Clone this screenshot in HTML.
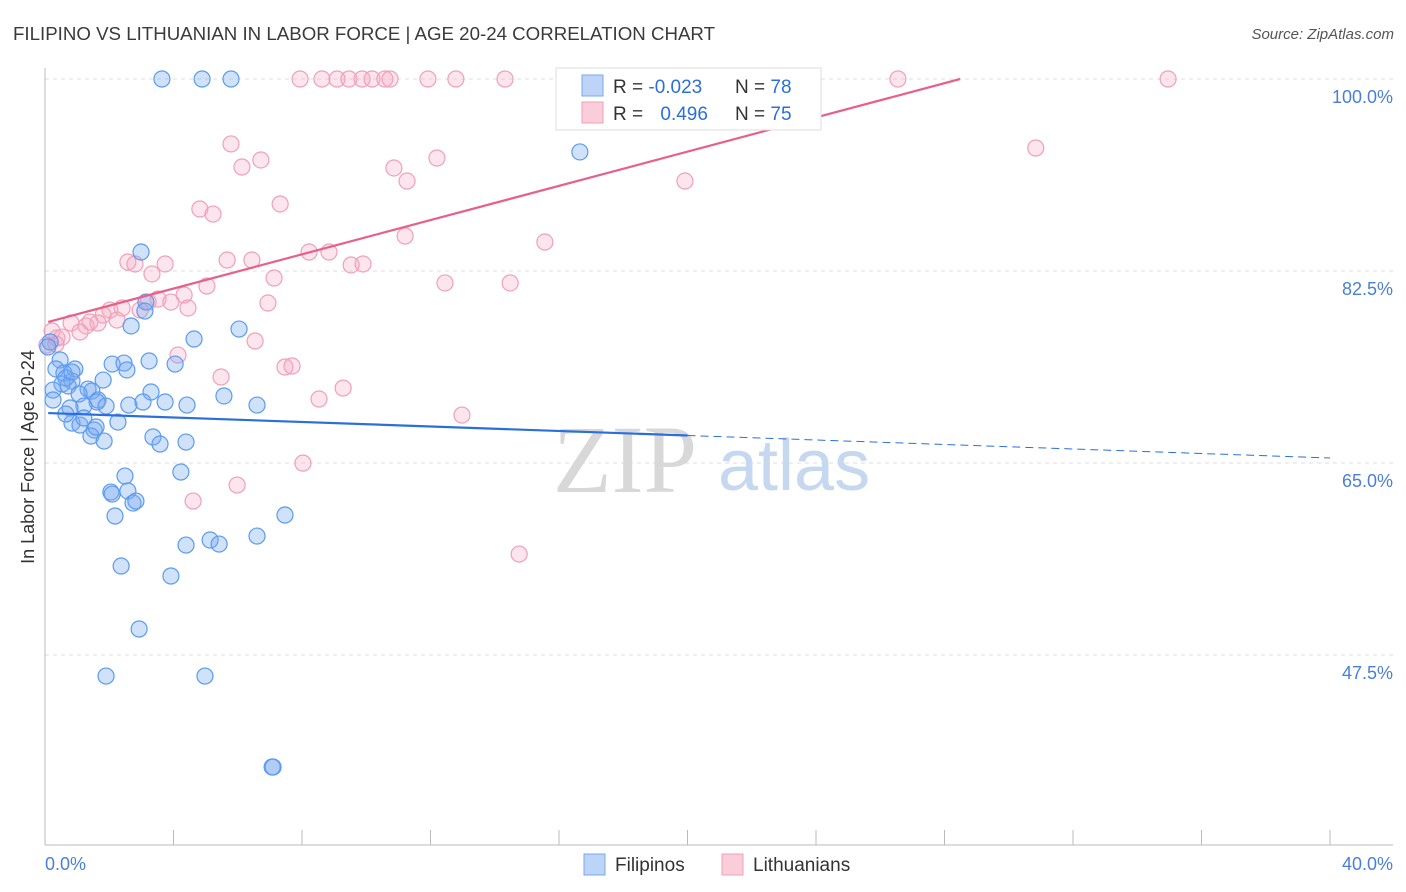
<!DOCTYPE html>
<html><head><meta charset="utf-8">
<style>
body{margin:0;background:#fff;font-family:"Liberation Sans",sans-serif;}
#wrap{position:relative;width:1406px;height:892px;overflow:hidden;}
</style></head>
<body>
<div id="wrap">
<svg id="chart" width="1406" height="892" xmlns="http://www.w3.org/2000/svg">
<text x="13" y="40" font-size="18.7" fill="#3a3a3a">FILIPINO VS LITHUANIAN IN LABOR FORCE | AGE 20-24 CORRELATION CHART</text>
<text x="1394" y="39" font-size="15" fill="#555" font-style="italic" text-anchor="end">Source: ZipAtlas.com</text>
<g id="grid"></g>
<g id="watermark">
<text x="553" y="492" font-size="96" font-family="Liberation Serif,serif" fill="#d8d8d8">ZIP</text>
<text x="718" y="490" font-size="72" fill="#c5d8f0">atlas</text>
</g>
<g id="axes"></g>
<g id="points"></g>
<g id="lines"></g>
<text transform="translate(34,457) rotate(-90)" font-size="18" fill="#333" text-anchor="middle">In Labor Force | Age 20-24</text>
<text x="45" y="870" font-size="18" fill="#4a7fd8">0.0%</text>
<text x="1393" y="870" font-size="18" fill="#4a7fd8" text-anchor="end">40.0%</text>
<g>
<rect x="556" y="68" width="265" height="62" fill="#fff" stroke="#ddd"/>
<rect x="582" y="75" width="21" height="21" fill="#bcd4f7" stroke="#7aa8ea"/>
<rect x="582" y="102" width="21" height="21" fill="#f9cdd9" stroke="#f0a0b8"/>
<text x="613" y="93" font-size="19" fill="#333">R = <tspan fill="#2a6fdb">-0.023</tspan></text>
<text x="735" y="93" font-size="19" fill="#333">N = <tspan fill="#2a6fdb">78</tspan></text>
<text x="613" y="120" font-size="19" fill="#333">R = <tspan fill="#2a6fdb" dx="12">0.496</tspan></text>
<text x="735" y="120" font-size="19" fill="#333">N = <tspan fill="#2a6fdb">75</tspan></text>
</g>
<g>
<rect x="584" y="854" width="21" height="21" fill="#bcd4f7" stroke="#7aa8ea"/>
<text x="615" y="871" font-size="19" fill="#333">Filipinos</text>
<rect x="722" y="854" width="21" height="21" fill="#f9cdd9" stroke="#f0a0b8"/>
<text x="753" y="871" font-size="19" fill="#333">Lithuanians</text>
</g>
</svg>
</div>
<script>
const yTicks=[100,82.5,65,47.5];
const yTickLabels=["100.0%","82.5%","65.0%","47.5%"];
const xTicks=[0,4,8,12,16,20,24,28,32,36,40];
const blueX=[3.64,4.89,5.79,16.65,2.99,6.04,2.68,3.14,3.11,4.64,0.16,0.09,0.47,0.34,0.93,0.59,0.84,0.53,0.72,0.25,0.65,1.81,1.34,1.46,2.09,2.46,3.24,4.05,3.30,1.06,1.65,1.62,1.21,0.78,1.90,2.61,3.05,3.74,4.42,5.57,6.60,0.84,1.09,1.53,1.43,1.84,2.27,3.36,3.58,4.39,4.23,2.49,2.05,2.09,2.58,2.74,2.83,2.18,7.47,5.14,5.42,4.39,6.60,2.37,3.92,2.93,1.90,4.98,7.07,7.10,0.25,1.21,0.65,0.84,1.59,2.55];
const blueY=[100,100,100,93.35,84.23,77.21,77.49,79.67,78.85,76.30,76.03,75.57,74.39,73.57,73.57,73.20,72.47,72.20,72.02,71.65,72.75,72.56,71.74,71.56,74.02,74.11,74.30,74.02,71.47,71.29,70.74,70.56,70.19,70.01,70.19,70.28,70.56,70.56,70.28,71.11,70.28,68.64,68.46,68.01,67.46,67.00,68.73,67.37,66.73,66.91,64.18,63.81,62.35,62.17,62.45,61.35,61.53,60.17,60.26,57.98,57.61,57.52,58.34,55.61,54.70,49.87,45.58,45.58,37.29,37.29,70.74,69.10,69.46,73.29,68.28,73.48];
const pinkX=[7.94,8.62,9.09,9.46,9.87,10.18,10.58,10.74,11.92,12.79,14.32,16.65,22.66,26.55,34.96,5.79,6.72,6.13,12.20,10.86,11.27,30.84,19.92,4.82,5.23,7.32,11.21,15.56,8.22,8.84,2.58,2.80,3.74,5.67,6.44,3.33,9.53,9.90,7.13,12.45,14.48,5.04,4.33,3.52,3.92,3.21,4.45,6.94,2.40,2.02,1.81,2.24,1.65,0.81,1.28,1.40,1.09,0.22,0.37,0.53,0.06,6.54,4.14,7.47,7.69,5.48,9.28,8.53,12.98,8.03,4.61,5.98,14.76,0.34,2.96];
const pinkY=[100,100,100,100,100,100,100,100,100,100,100,100,100,100,100,94.08,92.62,91.98,92.80,91.89,90.70,93.71,90.70,88.15,87.69,88.61,85.69,85.14,84.23,84.23,83.32,83.14,83.14,83.50,83.50,82.23,83.05,83.14,81.86,81.41,81.41,81.13,80.31,79.95,79.67,79.67,79.13,79.58,79.13,78.94,78.49,78.03,77.76,77.76,77.49,77.85,76.94,77.03,76.39,76.48,75.75,76.12,74.84,73.75,73.84,72.84,71.83,70.83,69.37,64.99,61.53,62.99,56.70,75.84,78.94];
const blueTrend=[69.56,-0.1026,20];
const pinkTrend=[77.78,0.78];
const NS="http://www.w3.org/2000/svg";
function xs(v){return 45+v*1285/40;}
function ys(v){return 79+(100-v)*192/17.5;}
function mk(tag,attrs,parent){const e=document.createElementNS(NS,tag);for(const k in attrs)e.setAttribute(k,attrs[k]);parent.appendChild(e);return e;}
const grid=document.getElementById('grid'),axes=document.getElementById('axes'),pts=document.getElementById('points'),lines=document.getElementById('lines');
yTicks.forEach((t,i)=>{
 const l=mk('line',{x1:45,x2:1393,y1:ys(t),y2:ys(t),stroke:'#ddd','stroke-dasharray':'4,4'},grid);
 
 
 const tx=mk('text',{x:1393,y:ys(t)+24,'font-size':18,fill:'#4a7fd8','text-anchor':'end'},grid);
 tx.textContent=yTickLabels[i];
 
 
});
let a=mk('line',{x1:45,x2:45,y1:68,y2:845,stroke:'#bbb'},axes);


a=mk('line',{x1:45,x2:1393,y1:845,y2:845,stroke:'#bbb'},axes);


xTicks.forEach(t=>{
 const l=mk('line',{x1:xs(t),x2:xs(t),y1:830,y2:845,stroke:'#bbb'},axes);
 
 
});
function drawPts(X,Y,fill,stroke,name){
 X.forEach((x,i)=>{
  const c=mk('circle',{cx:xs(x),cy:ys(Y[i]),r:8,fill:fill,stroke:stroke,'stroke-width':1.2},pts);
  
  
 });
}
drawPts(pinkX,pinkY,'rgba(245,170,195,0.3)','#f0a0b8','lithuanian-point');
drawPts(blueX,blueY,'rgba(120,170,240,0.35)','#5b9bf0','filipino-point');
const bf=x=>blueTrend[0]+blueTrend[1]*x;
let l=mk('line',{x1:xs(0.1),y1:ys(bf(0.1)),x2:xs(blueTrend[2]),y2:ys(bf(blueTrend[2])),stroke:'#2a6fdb','stroke-width':2.2},lines);


l=mk('line',{x1:xs(blueTrend[2]),y1:ys(bf(blueTrend[2])),x2:xs(40),y2:ys(bf(40)),stroke:'#2a6fdb','stroke-width':1,'stroke-dasharray':'8,5'},lines);


const pf=x=>pinkTrend[0]+pinkTrend[1]*x;
const pEnd=(100-pinkTrend[0])/pinkTrend[1];
l=mk('line',{x1:xs(0.1),y1:ys(pf(0.1)),x2:xs(pEnd),y2:ys(100),stroke:'#e8608a','stroke-width':2.2},lines);


</script>
</body></html>
